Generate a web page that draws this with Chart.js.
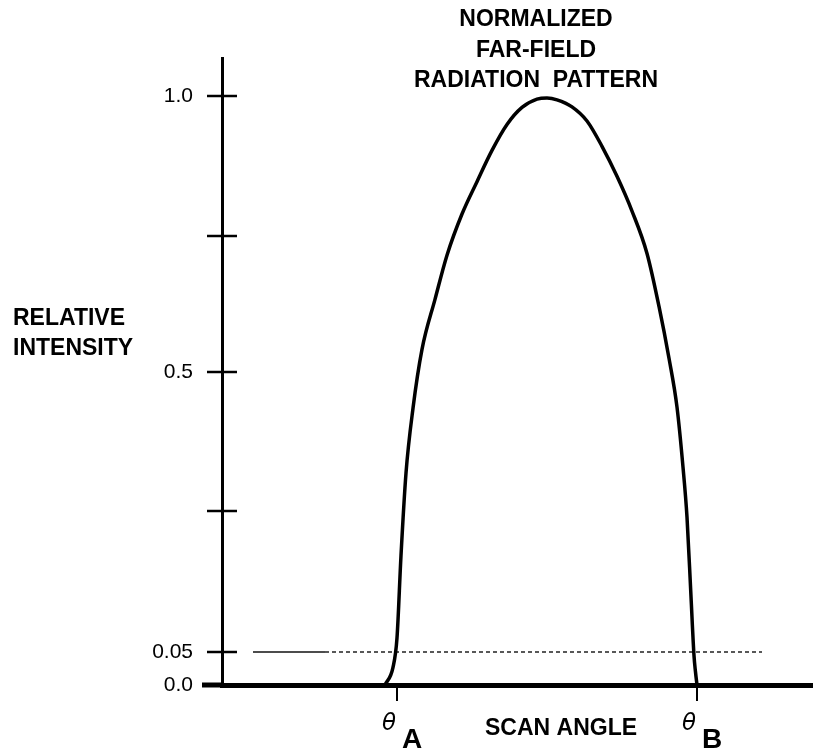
<!DOCTYPE html>
<html>
<head>
<meta charset="utf-8">
<script src="https://cdn.jsdelivr.net/npm/chart.js@4/dist/chart.umd.min.js"></script>
<style>
  html, body { margin: 0; padding: 0; background: #fff; }
  canvas { display: block; }
</style>
</head>
<body>
<canvas id="patron" width="814" height="753"></canvas>
<script>
// scan angle (arbitrary degrees, 0 = beam centre) and relative intensity
const angles = [-16.2, -15.4, -15.0, -14.6, -14.1, -13.4, -12.5, -11.2, -10.0, -8.5, -7.0, -5.5, -4.0, -2.5, -1.0,
  0,
  1.0, 2.5, 4.0, 5.5, 7.0, 8.5, 10.0, 11.2, 12.2, 13.0, 13.6, 14.0, 14.4, 14.7, 14.85, 15.0];
const intensity = [0, 0.03, 0.08, 0.22, 0.36, 0.47, 0.57, 0.655, 0.73, 0.80, 0.855, 0.908, 0.952, 0.981, 0.995,
  0.997,
  0.994, 0.982, 0.958, 0.915, 0.864, 0.805, 0.733, 0.643, 0.555, 0.472, 0.37, 0.285, 0.15, 0.05, 0.022, 0];

// 5% threshold line: solid part, then dotted part
const refLevel = 0.056;
const refSolid = [-29.4, -22.2];
const refDotted = [-22.2, 21.5];

// the two threshold angles
const thetaValues = [-15.0, 15.0];
const thetaSubs = ["A", "B"];

// y ticks as drawn in the sketch (not evenly scaled)
const yTickValues = [0, 0.056, 0.295, 0.531, 0.762, 1.0];
const yTickLabels = ["0.0", "0.05", "", "0.5", "", "1.0"];

const titleLines = ["NORMALIZED", "FAR-FIELD", "RADIATION  PATTERN"];
const yTitleLines = ["RELATIVE", "INTENSITY"];
const xTitle = "SCAN ANGLE";

const curva = angles.map((a, i) => ({ x: a, y: intensity[i] }));

const dibujos = {
  id: "dibujos",
  afterDraw(chart) {
    const { ctx, chartArea, scales } = chart;
    const x = scales.x, y = scales.y;
    ctx.save();
    ctx.strokeStyle = "#000";
    ctx.fillStyle = "#000";

    // x axis runs a little past the y axis
    ctx.lineWidth = 5;
    ctx.beginPath();
    ctx.moveTo(202, chartArea.bottom);
    ctx.lineTo(chartArea.left, chartArea.bottom);
    ctx.stroke();

    // crossing tick marks on the y axis
    ctx.lineWidth = 2.5;
    y.ticks.forEach(t => {
      const py = Math.round(y.getPixelForValue(t.value));
      ctx.beginPath();
      ctx.moveTo(chartArea.left - 15, py);
      ctx.lineTo(chartArea.left + 15, py);
      ctx.stroke();
    });

    // titles
    ctx.font = "bold 23px 'Liberation Sans', Arial, sans-serif";
    ctx.textAlign = "center";
    ctx.textBaseline = "alphabetic";
    [26, 57, 87].forEach((by, i) => ctx.fillText(titleLines[i], 536, by));

    ctx.textAlign = "left";
    [325, 355].forEach((by, i) => ctx.fillText(yTitleLines[i], 13, by));

    ctx.textAlign = "center";
    ctx.fillText(xTitle, 561, 735);

    // theta labels
    thetaValues.forEach((v, i) => {
      const px = x.getPixelForValue(v);
      ctx.font = "italic 23px 'DejaVu Sans', sans-serif";
      ctx.fillText("θ", px - 8, 730);
      ctx.font = "bold 28px 'Liberation Sans', Arial, sans-serif";
      ctx.fillText(thetaSubs[i], px + 15, 748);
    });
    ctx.restore();
  }
};

new Chart(document.getElementById("patron"), {
  type: "line",
  data: {
    datasets: [
      {
        data: curva,
        borderColor: "#000",
        borderWidth: 3.5,
        pointRadius: 0,
        cubicInterpolationMode: "monotone",
        clip: false
      },
      {
        data: refSolid.map(a => ({ x: a, y: refLevel })),
        borderColor: "#111",
        borderWidth: 1.5,
        pointRadius: 0
      },
      {
        data: refDotted.map(a => ({ x: a, y: refLevel })),
        borderColor: "#222",
        borderWidth: 1.5,
        borderDash: [4, 3],
        pointRadius: 0
      }
    ]
  },
  options: {
    responsive: false,
    animation: false,
    events: [],
    layout: { padding: { top: 58, right: 2, left: 0, bottom: 0 } },
    plugins: {
      legend: { display: false },
      tooltip: { enabled: false }
    },
    scales: {
      x: {
        type: "linear",
        min: -32.5,
        max: 26.5,
        afterFit: s => { s.height = 68; },
        afterBuildTicks: s => { s.ticks = thetaValues.map(v => ({ value: v })); },
        grid: { drawOnChartArea: false, drawTicks: true, tickLength: 16, color: "#000", lineWidth: 2 },
        border: { display: true, color: "#000", width: 5 },
        ticks: { display: false }
      },
      y: {
        type: "linear",
        min: 0,
        max: 1.065,
        afterFit: s => { s.width = 222; },
        afterBuildTicks: s => { s.ticks = yTickValues.map(v => ({ value: v })); },
        grid: { display: false, drawTicks: false },
        border: { display: true, color: "#000", width: 3 },
        ticks: {
          padding: 29,
          color: "#000",
          font: { family: "'Liberation Sans', Arial, sans-serif", size: 21 },
          callback: (v, i) => yTickLabels[i]
        }
      }
    }
  },
  plugins: [dibujos]
});
</script>
</body>
</html>
